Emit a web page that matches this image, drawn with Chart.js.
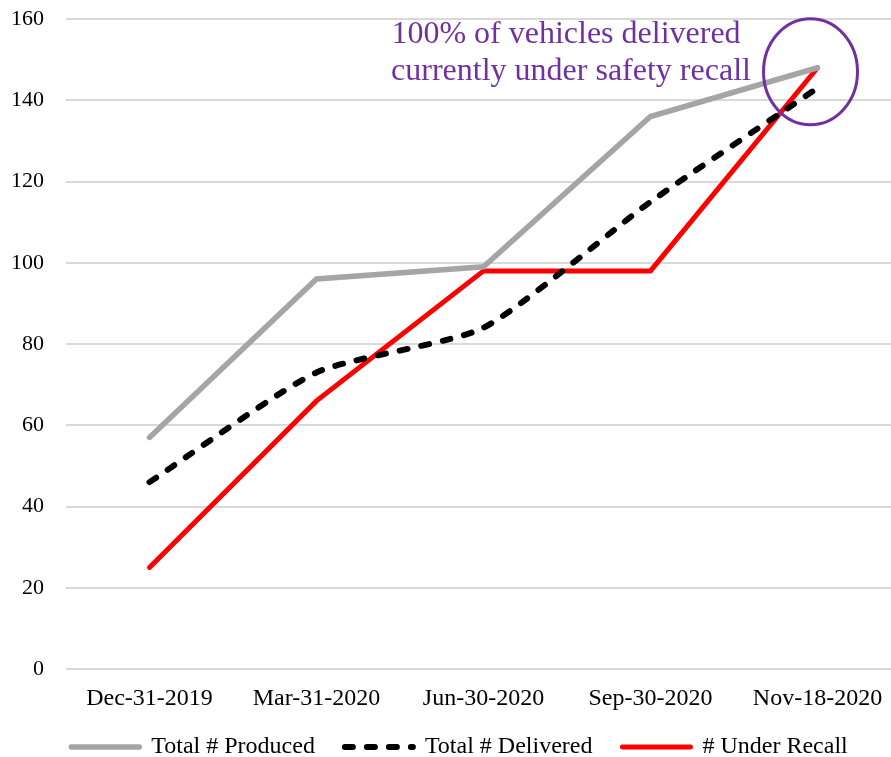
<!doctype html>
<html lang="en">
  <head>
    <meta charset="utf-8">
    <title>Vehicles Produced, Delivered and Under Recall</title>
    <style>
      * { margin: 0; padding: 0; }
      body { background: white; overflow: hidden; }
      .chartBox { width: 901px; height: 757px; }
    </style>
  </head>
  <body>
    <div class="chartBox">
      <canvas id="myChart"></canvas>
    </div>
    <script src="https://cdn.jsdelivr.net/npm/chart.js/dist/chart.umd.min.js"></script>
    <script>
    // data
    const dates = ['Dec-31-2019', 'Mar-31-2020', 'Jun-30-2020', 'Sep-30-2020', 'Nov-18-2020'];
    const produced = [57, 96, 99, 136, 148];
    const delivered = [46, 73, 84, 115, 143];
    const underRecall = [25, 66, 98, 98, 148];
    const yTicks = [0, 20, 40, 60, 80, 100, 120, 140, 160];
    const noteLines = ['100% of vehicles delivered', 'currently under safety recall'];

    const serif = "'Liberation Serif', 'Times New Roman', serif";
    const purple = '#7030A0';

    // plugin: purple note + ellipse around last point
    const recallNote = {
      id: 'recallNote',
      afterDatasetsDraw(chart) {
        const { ctx, scales: { x, y } } = chart;
        ctx.save();
        ctx.fillStyle = purple;
        ctx.font = '32px ' + serif;
        ctx.textAlign = 'center';
        ctx.textBaseline = 'middle';
        ctx.fillText(noteLines[0], 566, 35);
        ctx.fillText(noteLines[1], 571, 72);

        const last = dates.length - 1;
        ctx.strokeStyle = purple;
        ctx.lineWidth = 3;
        ctx.beginPath();
        ctx.ellipse(x.getPixelForValue(last) - 7, y.getPixelForValue(147), 47, 53, 0, 0, 2 * Math.PI);
        ctx.stroke();
        ctx.restore();
      }
    };

    // nudge the legend into place (it is kept short so the plot keeps its height)
    const legendNudge = {
      id: 'legendNudge',
      afterLayout(chart) {
        const lg = chart.legend;
        lg.top -= 9;
        lg.left += 9; lg.right += 9;
      }
    };

    const data = {
      labels: dates,
      datasets: [{
        label: 'Total # Produced',
        data: produced,
        borderColor: '#A5A5A5',
        backgroundColor: '#A5A5A5',
        borderWidth: 5.5,
        borderCapStyle: 'round',
        pointRadius: 0,
        tension: 0
      }, {
        label: 'Total # Delivered',
        data: delivered,
        borderColor: '#000000',
        backgroundColor: '#000000',
        borderWidth: 6,
        borderDash: [8, 14],
        borderCapStyle: 'round',
        pointRadius: 0,
        tension: 0.2
      }, {
        label: '# Under Recall',
        data: underRecall,
        borderColor: '#FF0000',
        backgroundColor: '#FF0000',
        borderWidth: 5,
        borderCapStyle: 'round',
        pointRadius: 0,
        tension: 0
      }]
    };

    const config = {
      type: 'line',
      data,
      options: {
        responsive: true,
        maintainAspectRatio: false,
        animation: false,
        layout: { padding: 0 },
        scales: {
          x: {
            offset: true,
            afterFit(scale) { scale.height = 45; },
            grid: { display: false, drawTicks: false },
            border: { display: false },
            ticks: { color: '#000', padding: 15, font: { family: serif, size: 24 }, maxRotation: 0 }
          },
          y: {
            min: 0,
            max: 160,
            afterFit(scale) {
              scale.width = 66;
              scale.paddingTop = 19;
              scale.paddingBottom = 0;
            },
            afterBuildTicks(scale) { scale.ticks = yTicks.map(v => ({ value: v })); },
            grid: { color: '#D9D9D9', lineWidth: 2, drawTicks: false },
            border: { display: false },
            ticks: { color: '#000', padding: 22, font: { family: serif, size: 22 } }
          }
        },
        plugins: {
          tooltip: { enabled: false },
          legend: {
            position: 'bottom',
            maxHeight: 43,
            labels: {
              color: '#000',
              font: { family: serif, size: 24 },
              usePointStyle: true,
              pointStyle: 'line',
              pointStyleWidth: 68,
              padding: 30,
              generateLabels(chart) {
                const items = Chart.defaults.plugins.legend.labels.generateLabels(chart);
                items.forEach((it, i) => {
                  const ds = chart.data.datasets[i];
                  it.lineDash = ds.borderDash || [];
                  it.lineWidth = ds.borderWidth;
                  it.lineCap = 'round';
                  it.strokeStyle = ds.borderColor;
                });
                return items;
              }
            }
          }
        }
      },
      plugins: [recallNote, legendNudge]
    };

    const myChart = new Chart(document.getElementById('myChart'), config);
    </script>
  </body>
</html>
